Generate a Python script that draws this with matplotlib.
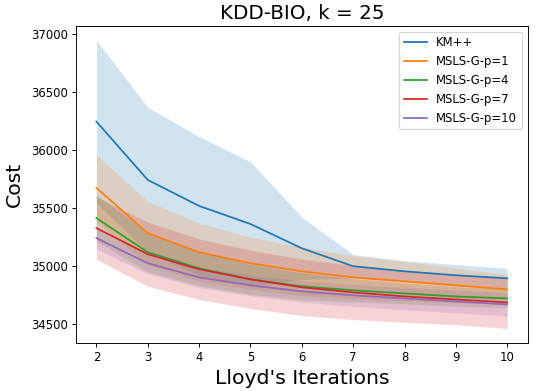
import numpy as np
import matplotlib
matplotlib.use('Agg')
import matplotlib.pyplot as plt

# Lloyd's iterations
iterations = [2, 3, 4, 5, 6, 7, 8, 9, 10]

# mean cost per method
km_mean = [36245, 35741, 35516, 35360, 35150, 34995, 34951, 34917, 34890]
p1_mean = [35672, 35281, 35116, 35021, 34951, 34899, 34865, 34830, 34795]
p4_mean = [35411, 35116, 34977, 34882, 34822, 34787, 34760, 34734, 34717]
p7_mean = [35325, 35099, 34969, 34882, 34813, 34769, 34734, 34708, 34682]
p10_mean = [35238, 35021, 34899, 34830, 34778, 34743, 34717, 34691, 34665]

# standard deviation per method
km_std = [703, 627, 600, 538, 270, 101, 92, 92, 87]
p1_std = [286, 275, 252, 225, 208, 188, 170, 150, 127]
p4_std = [200, 170, 150, 130, 115, 100, 90, 85, 80]
p7_std = [270, 277, 261, 252, 244, 234, 224, 218, 225]
p10_std = [95, 90, 88, 90, 92, 95, 97, 98, 100]

labels = ['KM++', 'MSLS-G-p=1', 'MSLS-G-p=4', 'MSLS-G-p=7', 'MSLS-G-p=10']
means = [km_mean, p1_mean, p4_mean, p7_mean, p10_mean]
stds = [km_std, p1_std, p4_std, p7_std, p10_std]

fig = plt.figure(figsize=(538 / 84, 391 / 84), dpi=84)
ax = fig.add_subplot(111)
fig.subplots_adjust(left=0.141, right=0.981, top=0.934, bottom=0.123)

for i in range(len(labels)):
    m = np.array(means[i])
    s = np.array(stds[i])
    ax.plot(iterations, m, label=labels[i], color='C%d' % i)
    ax.fill_between(iterations, m - s, m + s, color='C%d' % i, alpha=0.2, linewidth=0)

ax.set_title('KDD-BIO, k = 25', fontsize=17)
ax.set_xlabel("Lloyd's Iterations", fontsize=17.5)
ax.set_ylabel('Cost', fontsize=17.5, labelpad=6)
ax.legend(loc='upper right')

fig.savefig('out.png', dpi=84)
